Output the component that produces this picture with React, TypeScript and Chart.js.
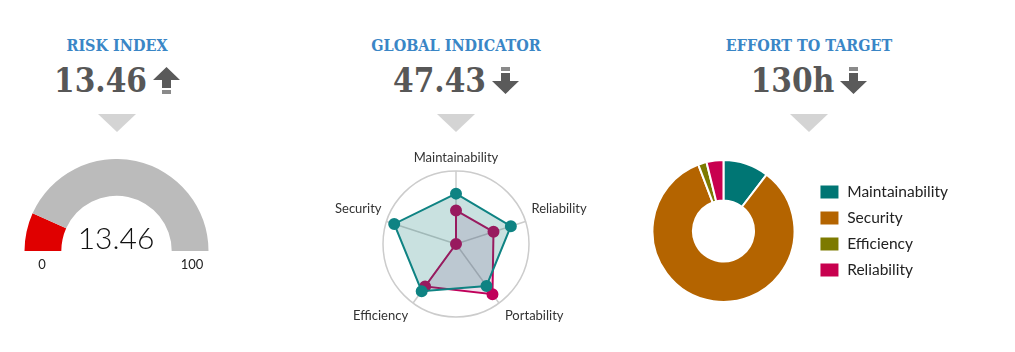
import React, { useEffect, useRef } from "react";
import { Chart, registerables } from "chart.js";

Chart.register(...registerables);
Chart.defaults.font.family = "Lato, 'Noto Sans', sans-serif";

// ---------- data ----------
const kpiTitles = ["RISK INDEX", "GLOBAL INDICATOR", "EFFORT TO TARGET"];
const kpiValues = ["13.46", "47.43", "130h"];
const kpiTrends = ["up", "down", "down"];

const gaugeValue = 13.46;
const gaugeMin = 0;
const gaugeMax = 100;
const gaugeLabels = ["0", "100"];

const radarLabels = ["Maintainability", "Reliability", "Portability", "Efficiency", "Security"];
const radarCurrent = [69, 79, 71, 80, 89];
const radarPrevious = [46, 54, 85, 72, 0];

const effortLabels = ["Maintainability", "Security", "Efficiency", "Reliability"];
const effortHours = [13.5, 109, 2.5, 5];
const effortColors = ["#007674", "#b46400", "#7d7a00", "#c8004f"];

// ---------- styles ----------
const COL_X = [117, 456, 809];
const TITLE_BLUE = "#3a86c6";
const VALUE_GRAY = "#575757";

function Arrow({ dir }: { dir: string }) {
  const up = dir === "up";
  return (
    <svg width={27} height={28} viewBox="0 0 27 28" style={{ display: "block" }}>
      {up ? (
        <g>
          <polygon points="13.5,0 27,13 18,13 18,21 9,21 9,13 0,13" fill="#5a5a5a" />
          <rect x={9} y={23} width={9} height={4} fill="#8a8a8a" />
        </g>
      ) : (
        <g>
          <rect x={9} y={0} width={9} height={4} fill="#8a8a8a" />
          <polygon points="9,6 18,6 18,14 27,14 13.5,27 0,14 9,14" fill="#5a5a5a" />
        </g>
      )}
    </svg>
  );
}

function Kpi({ i }: { i: number }) {
  const cx = COL_X[i];
  return (
    <>
      <div
        style={{
          position: "absolute",
          left: cx - 150,
          width: 300,
          top: 36,
          textAlign: "center",
          fontFamily: "'DejaVu Serif', serif",
          fontStretch: "condensed",
          fontWeight: 700,
          fontSize: 16,
          lineHeight: "20px",
          color: TITLE_BLUE,
          whiteSpace: "nowrap",
        }}
      >
        {kpiTitles[i]}
      </div>
      <div
        style={{
          position: "absolute",
          left: cx - 150,
          width: 300,
          top: 61,
          height: 40,
          display: "flex",
          justifyContent: "center",
          alignItems: "center",
          gap: 6,
        }}
      >
        <span
          style={{
            fontFamily: "'DejaVu Serif', serif",
            fontStretch: "condensed",
            fontWeight: 700,
            fontSize: 33,
            lineHeight: "40px",
            color: VALUE_GRAY,
            whiteSpace: "nowrap",
          }}
        >
          {kpiValues[i]}
        </span>
        <Arrow dir={kpiTrends[i]} />
      </div>
      <div
        style={{
          position: "absolute",
          left: cx - 19,
          top: 114,
          width: 0,
          height: 0,
          borderLeft: "19px solid transparent",
          borderRight: "19px solid transparent",
          borderTop: "18px solid #d4d4d4",
        }}
      />
    </>
  );
}

function Gauge() {
  const ref = useRef<HTMLCanvasElement>(null);
  useEffect(() => {
    const chart = new Chart(ref.current!, {
      type: "doughnut",
      data: {
        labels: ["value", "rest"],
        datasets: [
          {
            data: [gaugeValue - gaugeMin, gaugeMax - gaugeValue],
            backgroundColor: ["#e00000", "#bbbbbb"],
            borderWidth: 0,
          },
        ],
      },
      options: {
        responsive: false,
        animation: false,
        rotation: -90,
        circumference: 180,
        cutout: "60%",
        events: [],
        plugins: { legend: { display: false }, tooltip: { enabled: false } },
      },
    });
    return () => chart.destroy();
  }, []);
  return (
    <>
      <canvas ref={ref} width={185} height={92} style={{ position: "absolute", left: 24, top: 159 }} />
      <div
        style={{
          position: "absolute",
          left: 116 - 60,
          width: 120,
          top: 219,
          textAlign: "center",
          fontFamily: "Lato, sans-serif",
          fontWeight: 300,
          fontSize: 30,
          lineHeight: "36px",
          color: "#111",
        }}
      >
        {gaugeValue.toFixed(2)}
      </div>
      <div style={{ position: "absolute", left: 42 - 20, width: 40, top: 256, textAlign: "center", fontFamily: "Lato, sans-serif", fontSize: 13, lineHeight: "16px", color: "#222" }}>
        {gaugeLabels[0]}
      </div>
      <div style={{ position: "absolute", left: 192 - 20, width: 40, top: 256, textAlign: "center", fontFamily: "Lato, sans-serif", fontSize: 13, lineHeight: "16px", color: "#222" }}>
        {gaugeLabels[1]}
      </div>
    </>
  );
}

const radarLabelPlugin = {
  id: "radarOuterLabels",
  afterDraw(chart: any) {
    const scale = chart.scales.r;
    const ctx = chart.ctx;
    ctx.save();
    ctx.font = "13px Lato";
    ctx.fillStyle = "#333";
    ctx.textBaseline = "middle";
    radarLabels.forEach((label, i) => {
      const p = scale.getPointPosition(i, scale.drawingArea);
      const a = scale.getIndexAngle(i);
      const s = Math.sin(a);
      const c = Math.cos(a);
      let align = "center";
      let x = p.x;
      if (s > 0.1) {
        align = "left";
        x += 6;
      } else if (s < -0.1) {
        align = "right";
        x -= 5;
      }
      const y = p.y + (c > 0 ? -13 : 12.5);
      ctx.textAlign = align;
      ctx.fillText(label, x, y);
    });
    ctx.restore();
  },
};

function Radar() {
  const ref = useRef<HTMLCanvasElement>(null);
  useEffect(() => {
    const chart = new Chart(ref.current!, {
      type: "radar",
      data: {
        labels: radarLabels,
        datasets: [
          {
            data: radarCurrent,
            borderColor: "#0f8383",
            backgroundColor: "rgba(10,120,115,0.22)",
            pointBackgroundColor: "#0f8383",
            pointBorderColor: "#0f8383",
            pointRadius: 5,
            borderWidth: 2,
            fill: true,
          },
          {
            data: radarPrevious,
            borderColor: "#c0005a",
            backgroundColor: "rgba(140,30,120,0.14)",
            pointBackgroundColor: "#c0005a",
            pointBorderColor: "#c0005a",
            pointRadius: 5,
            borderWidth: 2,
            fill: true,
          },
        ],
      },
      options: {
        responsive: false,
        animation: false,
        events: [],
        layout: { padding: { top: 22, bottom: 22, left: 0, right: 0 } },
        plugins: { legend: { display: false }, tooltip: { enabled: false } },
        scales: {
          r: {
            min: 0,
            max: 100,
            ticks: { display: false, stepSize: 100 },
            grid: { circular: true, color: "#cccccc", lineWidth: 1.5 },
            angleLines: { color: "#cccccc", lineWidth: 1.5 },
            pointLabels: { display: false },
          },
        },
      },
      plugins: [radarLabelPlugin],
    });
    return () => chart.destroy();
  }, []);
  return <canvas ref={ref} width={300} height={190} style={{ position: "absolute", left: 306, top: 149 }} />;
}

function Effort() {
  const ref = useRef<HTMLCanvasElement>(null);
  useEffect(() => {
    const chart = new Chart(ref.current!, {
      type: "doughnut",
      data: {
        labels: effortLabels,
        datasets: [
          {
            data: effortHours,
            backgroundColor: effortColors,
            borderColor: "#ffffff",
            borderWidth: 2,
          },
        ],
      },
      options: {
        responsive: false,
        animation: false,
        cutout: "43%",
        events: [],
        plugins: {
          tooltip: { enabled: false },
          legend: {
            position: "right",
            labels: {
              boxWidth: 20,
              boxHeight: 15,
              padding: 10.5,
              color: "#222",
              font: { family: "Lato", size: 15.5 },
            },
          },
        },
      },
    });
    return () => chart.destroy();
  }, []);
  return <canvas ref={ref} width={320} height={144} style={{ position: "absolute", left: 638, top: 159 }} />;
}

export default function App() {
  return (
    <div style={{ position: "absolute", left: 0, top: 0, width: 1015, height: 352, background: "#fff", overflow: "hidden" }}>
      <Kpi i={0} />
      <Kpi i={1} />
      <Kpi i={2} />
      <Gauge />
      <Radar />
      <Effort />
    </div>
  );
}
